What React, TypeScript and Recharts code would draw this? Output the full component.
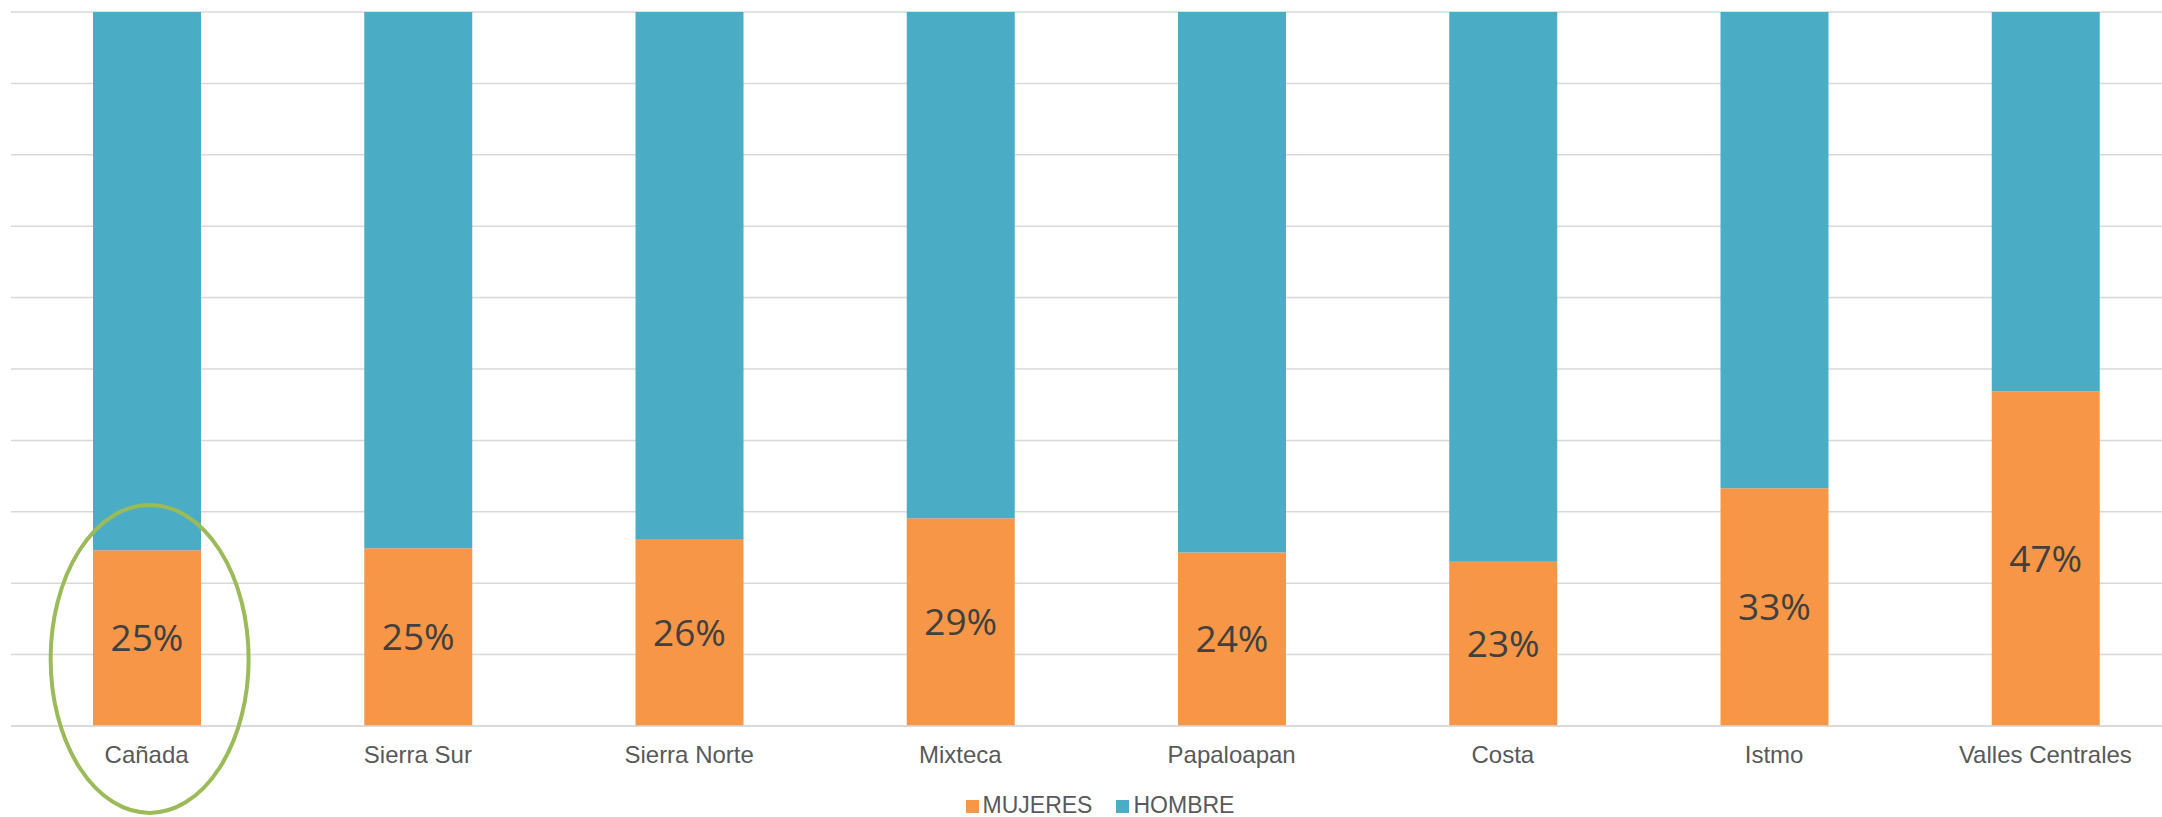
import React from "react";
import {
  BarChart,
  Bar,
  XAxis,
  YAxis,
  CartesianGrid,
  Legend,
  LabelList,
  ReferenceDot,
} from "recharts";

// regiones de Oaxaca
const regions = [
  "Cañada",
  "Sierra Sur",
  "Sierra Norte",
  "Mixteca",
  "Papaloapan",
  "Costa",
  "Istmo",
  "Valles Centrales",
];

// porcentaje de mujeres por region
const mujeres = [24.6, 24.9, 26.2, 29.1, 24.3, 23.0, 33.3, 46.9];

const yTicks = [0, 10, 20, 30, 40, 50, 60, 70, 80, 90, 100];

const legendItems = [
  { name: "MUJERES", color: "#F79646" },
  { name: "HOMBRE", color: "#4BACC6" },
];

const data = regions.map((region, i) => ({
  region,
  mujeres: mujeres[i],
  hombre: +(100 - mujeres[i]).toFixed(1),
}));

const renderLegend = () => (
  <div
    style={{
      height: 40,
      display: "flex",
      justifyContent: "center",
      alignItems: "flex-end",
      fontFamily: "'Liberation Sans', Arial, sans-serif",
      fontSize: 23,
      color: "#595959",
      paddingLeft: 8,
    }}
  >
    {legendItems.map((item) => (
      <div
        key={item.name}
        style={{ display: "flex", alignItems: "baseline", margin: "0 12px", lineHeight: "23px" }}
      >
        <span
          style={{
            display: "inline-block",
            width: 13,
            height: 13,
            background: item.color,
            marginRight: 4,
          }}
        />
        <span>{item.name}</span>
      </div>
    ))}
  </div>
);

// ovalo verde que resalta Cañada
const Oval = (props: any) => (
  <ellipse
    cx={props.cx + 3}
    cy={props.cy}
    rx={99}
    ry={154}
    fill="none"
    stroke="#9BBB59"
    strokeWidth={4}
  />
);

export default function App() {
  return (
    <div
      style={{
        position: "absolute",
        left: 0,
        top: 0,
        width: 2162,
        height: 817,
        overflow: "hidden",
        background: "#fff",
      }}
    >
      <BarChart
        width={2191}
        height={817}
        data={data}
        margin={{ top: 12, left: 11, right: 10, bottom: 0 }}
      >
        <CartesianGrid vertical={false} stroke="#D9D9D9" strokeWidth={1.5} />
        <XAxis
          dataKey="region"
          height={51}
          interval={0}
          tickLine={false}
          tickSize={0}
          tickMargin={20}
          axisLine={{ stroke: "#D9D9D9", strokeWidth: 1.5 }}
          tick={{
            fill: "#595959",
            fontSize: 24,
            fontFamily: "'Liberation Sans', Arial, sans-serif",
          }}
        />
        <YAxis hide domain={[0, 100]} ticks={yTicks} />
        <Legend verticalAlign="bottom" content={renderLegend} />
        <Bar dataKey="mujeres" stackId="a" fill="#F79646" barSize={108} isAnimationActive={false}>
          <LabelList
            dataKey="mujeres"
            position="center"
            formatter={(v: any) => `${Math.round(Number(v))}%`}
            fill="#404040"
            fontSize={37}
            fontFamily="'Open Sans', sans-serif"
          />
        </Bar>
        <Bar dataKey="hombre" stackId="a" fill="#4BACC6" barSize={108} isAnimationActive={false} />
        <ReferenceDot x="Cañada" y={9.4} ifOverflow="visible" shape={Oval} />
      </BarChart>
    </div>
  );
}
